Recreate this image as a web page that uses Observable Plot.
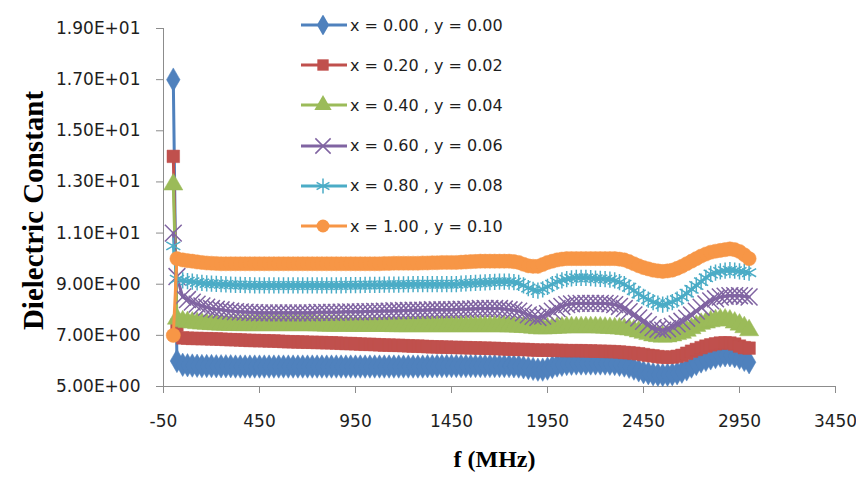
<!DOCTYPE html>
<html><head><meta charset="utf-8">
<script src="https://cdn.jsdelivr.net/npm/d3@7"></script>
<script src="https://cdn.jsdelivr.net/npm/@observablehq/plot@0.6"></script>
<style>
body{margin:0;background:#fff;}
#wrap{position:relative;width:856px;height:480px;overflow:hidden;}
#wrap > svg{overflow:visible;}
#legend{position:absolute;left:300px;top:0;font-family:"DejaVu Sans",sans-serif;font-size:16px;color:#1e1e1e;}
.item{position:absolute;left:0;height:20px;white-space:nowrap;display:flex;align-items:center;}
.item svg{display:block;margin-right:2px;}
</style></head><body><div id="wrap"><div id="legend"></div></div>
<script>
// ---- data ----
const freqs = [1, 20, 50, 75, 100, 125, 150, 175, 200, 225,
  250, 275, 300, 325, 350, 375, 400, 425, 450, 475,
  500, 525, 550, 575, 600, 625, 650, 675, 700, 725,
  750, 775, 800, 825, 850, 875, 900, 925, 950, 975,
  1000, 1025, 1050, 1075, 1100, 1125, 1150, 1175, 1200, 1225,
  1250, 1275, 1300, 1325, 1350, 1375, 1400, 1425, 1450, 1475,
  1500, 1525, 1550, 1575, 1600, 1625, 1650, 1675, 1700, 1725,
  1750, 1775, 1800, 1825, 1850, 1875, 1900, 1925, 1950, 1975,
  2000, 2025, 2050, 2075, 2100, 2125, 2150, 2175, 2200, 2225,
  2250, 2275, 2300, 2325, 2350, 2375, 2400, 2425, 2450, 2475,
  2500, 2525, 2550, 2575, 2600, 2625, 2650, 2675, 2700, 2725,
  2750, 2775, 2800, 2825, 2850, 2875, 2900, 2925, 2950, 2975,
  3000];

const s0 = [17.0, 6.0, 5.85, 5.83, 5.82, 5.81, 5.8, 5.8, 5.8, 5.79,
  5.79, 5.79, 5.79, 5.78, 5.78, 5.78, 5.78, 5.78, 5.78, 5.78,
  5.78, 5.78, 5.78, 5.78, 5.78, 5.78, 5.78, 5.78, 5.78, 5.78,
  5.78, 5.78, 5.78, 5.78, 5.78, 5.78, 5.78, 5.78, 5.78, 5.78,
  5.78, 5.78, 5.78, 5.78, 5.78, 5.78, 5.78, 5.78, 5.78, 5.78,
  5.78, 5.78, 5.78, 5.79, 5.79, 5.8, 5.8, 5.8, 5.8, 5.8,
  5.8, 5.8, 5.8, 5.8, 5.8, 5.8, 5.8, 5.8, 5.8, 5.8,
  5.8, 5.79, 5.78, 5.75, 5.72, 5.69, 5.66, 5.66, 5.7, 5.76,
  5.82, 5.85, 5.88, 5.89, 5.9, 5.9, 5.9, 5.9, 5.9, 5.9,
  5.9, 5.89, 5.88, 5.85, 5.82, 5.77, 5.7, 5.63, 5.56, 5.52,
  5.48, 5.46, 5.45, 5.46, 5.48, 5.52, 5.58, 5.67, 5.78, 5.88,
  5.98, 6.04, 6.1, 6.15, 6.2, 6.22, 6.22, 6.18, 6.12, 6.04,
  5.95];

const s1 = [14.0, 7.4, 6.9, 6.89, 6.88, 6.88, 6.87, 6.87, 6.86, 6.86,
  6.85, 6.84, 6.83, 6.83, 6.82, 6.81, 6.8, 6.8, 6.79, 6.79,
  6.78, 6.78, 6.77, 6.76, 6.75, 6.75, 6.74, 6.74, 6.73, 6.73,
  6.72, 6.72, 6.71, 6.71, 6.7, 6.69, 6.68, 6.68, 6.67, 6.66,
  6.65, 6.65, 6.64, 6.63, 6.62, 6.62, 6.61, 6.61, 6.6, 6.59,
  6.58, 6.58, 6.57, 6.56, 6.55, 6.55, 6.54, 6.54, 6.53, 6.53,
  6.52, 6.52, 6.51, 6.51, 6.5, 6.5, 6.49, 6.49, 6.48, 6.47,
  6.46, 6.46, 6.45, 6.45, 6.44, 6.43, 6.42, 6.42, 6.42, 6.42,
  6.41, 6.41, 6.4, 6.4, 6.4, 6.4, 6.39, 6.39, 6.38, 6.38,
  6.37, 6.37, 6.36, 6.35, 6.33, 6.32, 6.3, 6.28, 6.25, 6.22,
  6.2, 6.17, 6.15, 6.14, 6.15, 6.18, 6.22, 6.3, 6.38, 6.45,
  6.52, 6.58, 6.63, 6.67, 6.7, 6.71, 6.7, 6.66, 6.58, 6.52,
  6.5];

const s2 = [12.9, 7.65, 7.55, 7.52, 7.5, 7.48, 7.46, 7.45, 7.44, 7.43,
  7.42, 7.42, 7.41, 7.41, 7.4, 7.4, 7.4, 7.4, 7.4, 7.4,
  7.4, 7.4, 7.4, 7.4, 7.4, 7.4, 7.4, 7.4, 7.4, 7.4,
  7.39, 7.39, 7.38, 7.38, 7.38, 7.38, 7.38, 7.38, 7.37, 7.37,
  7.37, 7.37, 7.37, 7.37, 7.37, 7.37, 7.36, 7.36, 7.36, 7.36,
  7.36, 7.36, 7.36, 7.36, 7.36, 7.36, 7.36, 7.36, 7.36, 7.36,
  7.36, 7.36, 7.36, 7.36, 7.36, 7.36, 7.36, 7.36, 7.36, 7.36,
  7.35, 7.35, 7.34, 7.33, 7.32, 7.3, 7.28, 7.27, 7.28, 7.29,
  7.3, 7.31, 7.32, 7.32, 7.32, 7.32, 7.32, 7.32, 7.32, 7.31,
  7.3, 7.29, 7.28, 7.27, 7.25, 7.23, 7.2, 7.15, 7.1, 7.05,
  7.0, 6.97, 6.95, 6.96, 7.0, 7.05, 7.1, 7.18, 7.28, 7.37,
  7.45, 7.5, 7.55, 7.59, 7.62, 7.62, 7.58, 7.5, 7.42, 7.32,
  7.2];

const s3 = [11.0, 9.3, 8.5, 8.4, 8.3, 8.22, 8.15, 8.1, 8.05, 8.02,
  8.0, 7.97, 7.95, 7.93, 7.92, 7.91, 7.9, 7.89, 7.88, 7.88,
  7.88, 7.88, 7.88, 7.88, 7.88, 7.88, 7.88, 7.88, 7.88, 7.88,
  7.9, 7.9, 7.9, 7.9, 7.9, 7.91, 7.92, 7.92, 7.92, 7.92,
  7.93, 7.93, 7.94, 7.94, 7.95, 7.95, 7.96, 7.96, 7.97, 7.97,
  7.98, 7.98, 7.98, 7.99, 8.0, 8.0, 8.0, 8.0, 8.0, 8.01,
  8.02, 8.02, 8.03, 8.04, 8.05, 8.05, 8.05, 8.05, 8.05, 8.03,
  8.0, 7.98, 7.95, 7.88, 7.8, 7.74, 7.7, 7.75, 7.85, 7.95,
  8.05, 8.13, 8.2, 8.23, 8.25, 8.25, 8.25, 8.25, 8.25, 8.25,
  8.25, 8.23, 8.2, 8.13, 8.05, 7.93, 7.8, 7.68, 7.55, 7.42,
  7.3, 7.24, 7.2, 7.26, 7.35, 7.45, 7.55, 7.67, 7.8, 7.95,
  8.1, 8.23, 8.35, 8.43, 8.5, 8.53, 8.55, 8.55, 8.55, 8.53,
  8.5];

const s4 = [10.5, 9.2, 9.15, 9.12, 9.1, 9.07, 9.05, 9.03, 9.02, 9.01,
  9.0, 8.99, 8.98, 8.97, 8.97, 8.96, 8.96, 8.95, 8.95, 8.95,
  8.95, 8.95, 8.95, 8.95, 8.95, 8.95, 8.95, 8.95, 8.95, 8.95,
  8.95, 8.95, 8.95, 8.95, 8.95, 8.95, 8.96, 8.96, 8.96, 8.96,
  8.97, 8.97, 8.97, 8.97, 8.98, 8.98, 8.98, 8.98, 8.99, 8.99,
  9.0, 9.0, 9.0, 9.0, 9.0, 9.0, 9.0, 9.0, 9.0, 9.0,
  9.02, 9.03, 9.04, 9.05, 9.06, 9.07, 9.08, 9.09, 9.1, 9.1,
  9.1, 9.08, 9.05, 8.95, 8.85, 8.78, 8.75, 8.8, 8.9, 9.0,
  9.1, 9.15, 9.2, 9.23, 9.25, 9.25, 9.25, 9.24, 9.22, 9.21,
  9.2, 9.18, 9.15, 9.08, 9.0, 8.88, 8.75, 8.62, 8.5, 8.4,
  8.3, 8.24, 8.2, 8.24, 8.3, 8.4, 8.5, 8.65, 8.8, 8.95,
  9.1, 9.25, 9.4, 9.45, 9.5, 9.53, 9.55, 9.53, 9.5, 9.48,
  9.45];

const s5 = [7.0, 10.0, 9.95, 9.92, 9.9, 9.87, 9.85, 9.83, 9.82, 9.81,
  9.8, 9.8, 9.8, 9.8, 9.8, 9.8, 9.8, 9.8, 9.8, 9.8,
  9.8, 9.8, 9.8, 9.8, 9.8, 9.8, 9.8, 9.8, 9.8, 9.8,
  9.8, 9.8, 9.8, 9.8, 9.8, 9.8, 9.8, 9.8, 9.8, 9.8,
  9.8, 9.8, 9.8, 9.8, 9.81, 9.81, 9.82, 9.82, 9.82, 9.82,
  9.82, 9.82, 9.83, 9.83, 9.84, 9.84, 9.85, 9.85, 9.85, 9.85,
  9.86, 9.87, 9.88, 9.89, 9.9, 9.9, 9.9, 9.9, 9.9, 9.9,
  9.9, 9.88, 9.85, 9.78, 9.72, 9.7, 9.7, 9.77, 9.85, 9.9,
  9.95, 9.98, 10.0, 10.0, 10.0, 10.0, 10.0, 10.0, 10.0, 10.0,
  10.0, 10.0, 10.0, 9.98, 9.95, 9.88, 9.8, 9.72, 9.65, 9.6,
  9.55, 9.52, 9.5, 9.52, 9.55, 9.62, 9.7, 9.8, 9.9, 10.0,
  10.1, 10.18, 10.25, 10.29, 10.32, 10.35, 10.38, 10.35, 10.28, 10.15,
  10.0];

const seriesNames = ["x = 0.00 , y = 0.00", "x = 0.20 , y = 0.02", "x = 0.40 , y = 0.04",
  "x = 0.60 , y = 0.06", "x = 0.80 , y = 0.08", "x = 1.00 , y = 0.10"];
const seriesValues = [s0, s1, s2, s3, s4, s5];
const yTicks = [5, 7, 9, 11, 13, 15, 17, 19];
const xTicks = [-50, 450, 950, 1450, 1950, 2450, 2950, 3450];

// ---- styles ----
const colors = ["#4F81BD", "#C0504D", "#9BBB59", "#8064A2", "#4BACC6", "#F79646"];
const symbols = ["diamond", "square", "triangle", "times", "asterisk", "circle"];
const d3symbols = [d3.symbolDiamond, d3.symbolSquare, d3.symbolTriangle, d3.symbolTimes, d3.symbolAsterisk, d3.symbolCircle];
const strokeSym = [false, false, false, true, true, false];
const R = 7.1;      // plot marker radius
const RL = 6.4;     // legend marker radius

const fmt = v => {
  const e = Math.floor(Math.log10(v));
  const m = v / Math.pow(10, e);
  return m.toFixed(2) + "E" + (e >= 0 ? "+" : "-") + String(Math.abs(e)).padStart(2, "0");
};

const marks = [];
seriesValues.forEach((vals, i) => {
  const rows = freqs.map((f, j) => ({f, v: vals[j]}));
  marks.push(Plot.line(rows, {x: "f", y: "v", stroke: colors[i], strokeWidth: 3}));
  if (strokeSym[i]) {
    marks.push(Plot.dot(rows, {x: "f", y: "v", symbol: symbols[i], r: R + 0.6, stroke: colors[i], strokeWidth: 1.5, fill: "none"}));
  } else {
    marks.push(Plot.dot(rows, {x: "f", y: "v", symbol: symbols[i], r: R, fill: colors[i], stroke: colors[i], strokeWidth: 0.5}));
  }
});

const chart = Plot.plot({
  width: 856,
  height: 480,
  marginLeft: 163,
  marginRight: 21,
  marginTop: 28,
  marginBottom: 94,
  style: {fontFamily: "DejaVu Sans, sans-serif", fontSize: "17px", color: "#1e1e1e", background: "#fff"},
  x: {domain: [xTicks[0], xTicks[xTicks.length - 1]]},
  y: {domain: [yTicks[0], yTicks[yTicks.length - 1]]},
  marks: [
    Plot.axisY({ticks: yTicks, tickFormat: fmt, tickSize: 7, tickPadding: 16, stroke: "#8c8c8c", fill: "#1e1e1e", fontSize: 17, label: null}),
    Plot.axisX({ticks: xTicks, tickFormat: d => String(d), tickSize: 7, tickPadding: 21, stroke: "#8c8c8c", fill: "#1e1e1e", fontSize: 17, label: null}),
    Plot.ruleX([xTicks[0]], {stroke: "#8c8c8c"}),
    Plot.ruleY([yTicks[0]], {stroke: "#8c8c8c"}),
    ...marks,
    Plot.text(["Dielectric Constant"], {frameAnchor: "left", textAnchor: "middle", rotate: -90, dx: -130, dy: 3,
      fontSize: 29, fontWeight: "bold", fontFamily: "Liberation Serif, serif", fill: "#000"}),
    Plot.text(["f (MHz)"], {frameAnchor: "bottom", textAnchor: "middle", dx: -5, dy: 80,
      fontSize: 24, fontWeight: "bold", fontFamily: "Liberation Serif, serif", fill: "#000"})
  ]
});
document.getElementById("wrap").prepend(chart);

// ---- legend ----
const legend = document.getElementById("legend");
seriesNames.forEach((name, i) => {
  const item = document.createElement("div");
  item.className = "item";
  item.style.top = (15 + i * 40.2) + "px";
  const ns = "http://www.w3.org/2000/svg";
  const svg = document.createElementNS(ns, "svg");
  svg.setAttribute("width", 48);
  svg.setAttribute("height", 20);
  const line = document.createElementNS(ns, "line");
  line.setAttribute("x1", 1); line.setAttribute("x2", 47);
  line.setAttribute("y1", 10); line.setAttribute("y2", 10);
  line.setAttribute("stroke", colors[i]); line.setAttribute("stroke-width", 3);
  svg.appendChild(line);
  const p = document.createElementNS(ns, "path");
  const rr = strokeSym[i] ? RL + 0.6 : RL;
  p.setAttribute("d", d3.symbol(d3symbols[i], rr * rr * Math.PI)());
  p.setAttribute("transform", "translate(23,10)");
  if (strokeSym[i]) { p.setAttribute("fill", "none"); p.setAttribute("stroke", colors[i]); p.setAttribute("stroke-width", 1.5); }
  else { p.setAttribute("fill", colors[i]); }
  svg.appendChild(p);
  item.appendChild(svg);
  const t = document.createElement("span");
  t.textContent = name;
  item.appendChild(t);
  legend.appendChild(item);
});
</script>
</body></html>
